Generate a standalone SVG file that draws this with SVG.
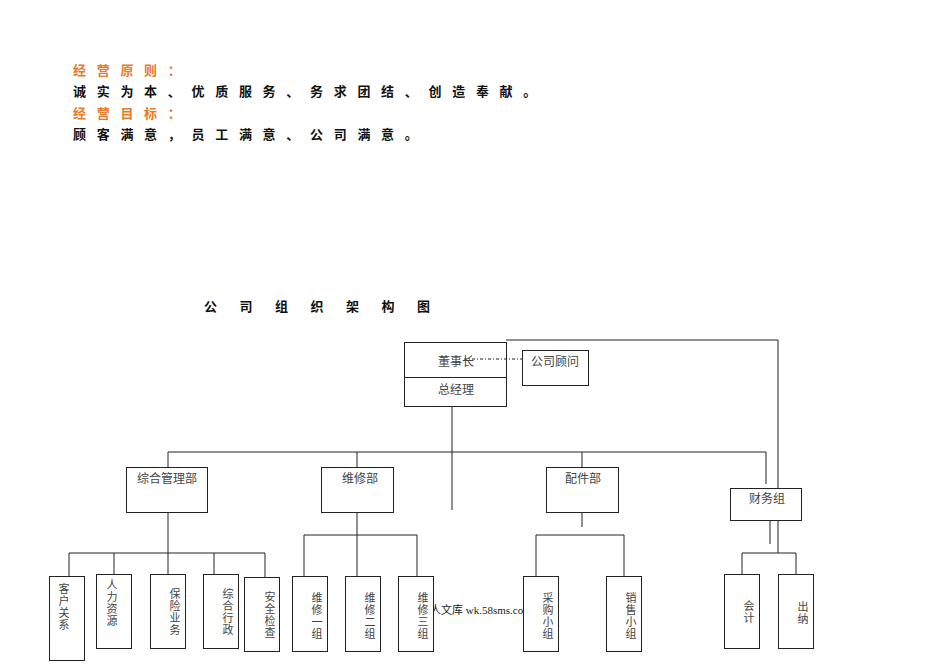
<svg xmlns="http://www.w3.org/2000/svg" width="950" height="672" viewBox="0 0 950 672">
<style>
.hd{font-family:"Noto Sans CJK SC","Noto Sans",sans-serif;font-size:13px;font-weight:bold;letter-spacing:10.7px}
.org{fill:#e87a2a}
.blk{fill:#111}
.ttl{font-family:"Noto Sans CJK SC","Noto Sans",sans-serif;font-size:13px;font-weight:bold;letter-spacing:22.5px;fill:#111}
.box{fill:#fff;stroke:#222;stroke-width:1}
.lbl{font-family:"Noto Sans CJK SC",sans-serif;font-size:12px;fill:#444;text-anchor:middle}
.vt{font-family:"Noto Sans CJK SC",sans-serif;font-size:11px;fill:#444;writing-mode:vertical-rl;letter-spacing:1px}
.ln{stroke:#222;stroke-width:1;fill:none}
.wm{font-family:"Liberation Serif","Noto Sans CJK SC",serif;font-size:11px;fill:#222}
</style>
<rect width="950" height="672" fill="#fff"/>
<g id="header">
<text class="hd org" x="73" y="75">经营原则：</text>
<text class="hd blk" x="73" y="96">诚实为本、优质服务、务求团结、创造奉献。</text>
<text class="hd org" x="73" y="118">经营目标：</text>
<text class="hd blk" x="73" y="139">顾客满意，员工满意、公司满意。</text>
<text class="ttl" x="204" y="311">公司组织架构图</text>
</g>
<g id="connectors">
<path class="ln" d="M506 340 H778 V553"/>
<path class="ln" d="M452 406 V510"/>
<path class="ln" d="M168 467 V452 H766 V484"/>
<path class="ln" d="M357 452 V467"/>
<path class="ln" d="M582 452 V467"/>
<path class="ln" d="M168 512 V553"/>
<path class="ln" d="M69 576 V553 H265 V577"/>
<path class="ln" d="M114 553 V574"/>
<path class="ln" d="M168 553 V574"/>
<path class="ln" d="M214 553 V574"/>
<path class="ln" d="M357 512 V535"/>
<path class="ln" d="M304 576 V535 H417 V576"/>
<path class="ln" d="M357 535 V576"/>
<path class="ln" d="M582 512 V527"/>
<path class="ln" d="M536 576 V535 H624 V576"/>
<path class="ln" d="M770 520 V544"/>
<path class="ln" d="M742 574 V553 H796 V574"/>
</g>
<text class="wm" x="430" y="614">人文库 wk.58sms.com</text>
<g id="n-chairman">
<rect x="404.5" y="342.5" width="102" height="64" fill="none" stroke="#222"/>
<line x1="404.5" y1="377.5" x2="506.5" y2="377.5" stroke="#222"/>
<text class="lbl" x="456" y="366">董事长</text>
<text class="lbl" x="456" y="394">总经理</text>
</g>
<path class="ln" d="M464 359 H522" stroke-dasharray="3 2 1 2"/>
<g id="n-advisor"><rect class="box" x="522.5" y="350.5" width="66" height="35"/><text class="lbl" x="555" y="366">公司顾问</text></g>
<g id="n-admin"><rect class="box" x="126.5" y="467.5" width="81" height="45"/><text class="lbl" x="167" y="483">综合管理部</text></g>
<g id="n-repair"><rect class="box" x="321.5" y="467.5" width="72" height="45"/><text class="lbl" x="360" y="483">维修部</text></g>
<g id="n-parts"><rect class="box" x="546.5" y="467.5" width="72" height="45"/><text class="lbl" x="583" y="483">配件部</text></g>
<g id="n-finance"><rect class="box" x="730.5" y="488.5" width="71" height="32"/><text class="lbl" x="767" y="503">财务组</text></g>
<g id="n-customer"><rect class="box" x="49.5" y="576.5" width="35" height="84"/><text class="vt" x="64" y="583">客户关系</text></g>
<g id="n-hr"><rect class="box" x="96.5" y="574.5" width="35" height="74"/><text class="vt" x="112" y="579">人力资源</text></g>
<g id="n-insurance"><rect class="box" x="150.5" y="574.5" width="35" height="74"/><text class="vt" x="175" y="588">保险业务</text></g>
<g id="n-office"><rect class="box" x="203.5" y="574.5" width="35" height="74"/><text class="vt" x="228" y="588">综合行政</text></g>
<g id="n-safety"><rect class="box" x="244.5" y="577.5" width="35" height="74"/><text class="vt" x="270" y="591">安全检查</text></g>
<g id="n-r1"><rect class="box" x="292.5" y="576.5" width="35" height="75"/><text class="vt" x="317" y="592">维修一组</text></g>
<g id="n-r2"><rect class="box" x="345.5" y="576.5" width="35" height="75"/><text class="vt" x="370" y="592">维修二组</text></g>
<g id="n-r3"><rect class="box" x="398.5" y="576.5" width="35" height="75"/><text class="vt" x="423" y="592">维修三组</text></g>
<g id="n-purchase"><rect class="box" x="523.5" y="576.5" width="35" height="75"/><text class="vt" x="548" y="592">采购小组</text></g>
<g id="n-sales"><rect class="box" x="606.5" y="576.5" width="35" height="75"/><text class="vt" x="631" y="592">销售小组</text></g>
<g id="n-accountant"><rect class="box" x="724.5" y="574.5" width="35" height="74"/><text class="vt" x="749" y="600">会计</text></g>
<g id="n-cashier"><rect class="box" x="778.5" y="574.5" width="35" height="74"/><text class="vt" x="803" y="601">出纳</text></g>
</svg>
